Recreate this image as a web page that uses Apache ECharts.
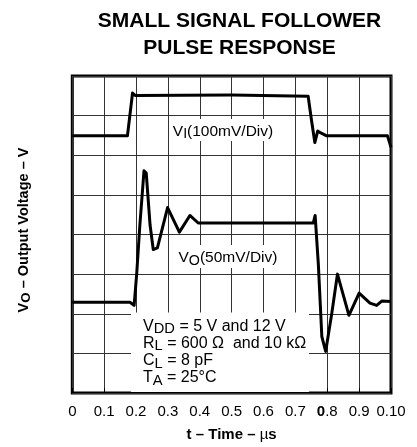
<!DOCTYPE html>
<html>
<head>
<meta charset="utf-8">
<script src="https://cdn.jsdelivr.net/npm/echarts@6/dist/echarts.min.js"></script>
<style>
  html, body { margin: 0; padding: 0; background: #fff; }
  #chart { width: 417px; height: 447px; }
</style>
</head>
<body>
<div id="chart"></div>
<script>
// Horizontal axis: time in µs. Vertical axis: screen divisions (8 divisions).
const tickLabels = ['0', '0.1', '0.2', '0.3', '0.4', '0.5', '0.6', '0.7', '0.8', '0.9', '0.10'];

// Input pulse V_I (100 mV/div), trace position in divisions
const inputTime = [0, 0.173, 0.189, 0.197, 0.50, 0.740, 0.751, 0.761, 0.770, 0.783, 0.798, 0.989, 1.0];
const inputDiv  = [6.49, 6.49, 7.57, 7.51, 7.52, 7.49, 6.86, 6.32, 6.61, 6.55, 6.49, 6.49, 6.20];

// Follower output V_O (50 mV/div), trace position in divisions
const outputTime = [0, 0.181, 0.194, 0.202, 0.212, 0.225, 0.232, 0.244, 0.254, 0.267, 0.299, 0.336,
                    0.369, 0.395, 0.756, 0.762, 0.772, 0.783, 0.795, 0.814, 0.832, 0.868, 0.900,
                    0.934, 0.955, 0.971, 1.0];
const outputDiv  = [2.29, 2.29, 2.21, 3.00, 4.24, 5.61, 5.55, 4.24, 3.62, 3.66, 4.68, 4.06,
                    4.48, 4.29, 4.29, 4.48, 3.25, 1.42, 1.05, 2.00, 3.00, 1.96, 2.52,
                    2.27, 2.21, 2.32, 2.31];

const FONT = 'Liberation Sans, Arial, sans-serif';
const pair = (xs, ys) => xs.map((x, i) => [x, ys[i]]);

// rich styles giving a lowered subscript
function subRich(size, weight, lh) {
  return {
    n: { fontFamily: FONT, fontSize: size, fontWeight: weight, color: '#000', lineHeight: lh, padding: [0, 0, 3, 0] },
    s: { fontFamily: FONT, fontSize: size * 0.92, fontWeight: weight, color: '#000', lineHeight: lh, padding: [3, 0, 0, 0] }
  };
}

const chart = echarts.init(document.getElementById('chart'), null, { renderer: 'canvas' });

chart.setOption({
  animation: false,
  backgroundColor: '#fff',
  grid: {
    left: 72.3, top: 76, width: 318.7, height: 321,
    show: true, borderColor: '#000', borderWidth: 3, containLabel: false
  },
  xAxis: {
    type: 'value', min: 0, max: 1, interval: 0.1,
    axisLine: { show: false },
    axisTick: { show: true, inside: true, length: 5, lineStyle: { color: '#000', width: 1 } },
    splitLine: { show: true, lineStyle: { color: '#333', width: 1 } },
    axisLabel: {
      margin: 11, color: '#000', fontFamily: FONT, fontSize: 15,
      formatter: (v, i) => {
        const t = tickLabels[i] ?? '';
        return i === 8 ? '{b|' + t.charAt(0) + '}' + t.slice(1) : t;
      },
      rich: { b: { fontFamily: FONT, fontSize: 15, fontWeight: 'bold', color: '#000' } }
    },
    name: 't – Time – {m|µ}s',
    nameLocation: 'middle', nameGap: 34,
    nameTextStyle: {
      fontFamily: FONT, fontSize: 15, fontWeight: 'bold', color: '#000',
      rich: { m: { fontFamily: FONT, fontSize: 15, fontWeight: 'normal', color: '#000' } }
    }
  },
  yAxis: {
    type: 'value', min: 0, max: 8, interval: 1,
    axisLine: { show: false }, axisTick: { show: false }, axisLabel: { show: false },
    splitLine: { show: true, lineStyle: { color: '#333', width: 1 } }
  },
  series: [
    {
      name: 'VI', type: 'line', data: pair(inputTime, inputDiv),
      showSymbol: false, z: 3,
      lineStyle: { color: '#000', width: 3, join: 'round' }
    },
    {
      name: 'VO', type: 'line', data: pair(outputTime, outputDiv),
      showSymbol: false, z: 3,
      lineStyle: { color: '#000', width: 3, join: 'round' }
    }
  ],
  graphic: [
    { type: 'text', z: 100, style: { x: 239.5, y: 21, text: 'SMALL SIGNAL FOLLOWER', textAlign: 'center', textVerticalAlign: 'middle', font: 'bold 21px ' + FONT, fill: '#000' } },
    { type: 'text', z: 100, style: { x: 239.5, y: 48, text: 'PULSE RESPONSE', textAlign: 'center', textVerticalAlign: 'middle', font: 'bold 21px ' + FONT, fill: '#000' } },
    {
      type: 'text', z: 100, x: 25, y: 230, rotation: Math.PI / 2,
      style: { text: '{n|V}{s|O}{n| – Output Voltage – V}', textAlign: 'center', textVerticalAlign: 'middle', rich: subRich(14.5, 'bold', 14) }
    },
    // label panels
    { type: 'rect', z: 90, shape: { x: 170, y: 119, width: 124, height: 22 }, style: { fill: '#fff' } },
    {
      type: 'text', z: 100,
      style: { x: 223, y: 126, text: '{n|V}{s|I}{n|(100mV/Div)}', textAlign: 'center', textVerticalAlign: 'top', rich: subRich(15.5, 'normal', 14) }
    },
    { type: 'rect', z: 90, shape: { x: 170, y: 245, width: 124, height: 23 }, style: { fill: '#fff' } },
    {
      type: 'text', z: 100,
      style: { x: 228, y: 252.5, text: '{n|V}{s|O}{n|(50mV/Div)}', textAlign: 'center', textVerticalAlign: 'top', rich: subRich(15.5, 'normal', 14) }
    },
    { type: 'rect', z: 90, shape: { x: 131, y: 312.5, width: 178, height: 79.5 }, style: { fill: '#fff' } },
    {
      type: 'text', z: 100,
      style: {
        x: 143, y: 319, textAlign: 'left', textVerticalAlign: 'top',
        text: '{n|V}{s|DD}{n| = 5 V and 12 V}\n{n|R}{s|L}{n| = 600 Ω  and 10 kΩ}\n{n|C}{s|L}{n| = 8 pF}\n{n|T}{s|A}{n| = 25°C}',
        rich: subRich(16, 'normal', 17.2)
      }
    }
  ]
});
</script>
</body>
</html>
